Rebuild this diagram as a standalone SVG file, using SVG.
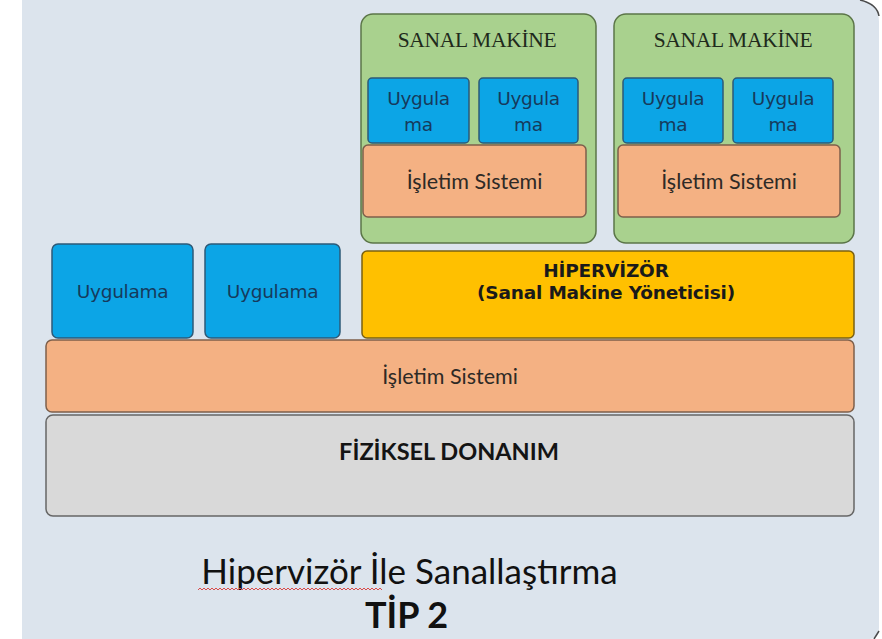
<svg xmlns="http://www.w3.org/2000/svg" width="882" height="639" viewBox="0 0 882 639">
  <style>
    .panel { fill: #dce4ed; }
    .edge { fill: none; stroke: #4a4a4a; stroke-width: 1.5; }
    .vm { fill: #a9d18e; stroke: #5b7548; stroke-width: 1.5; }
    .app { fill: #0ca5e6; stroke: #2d5a78; stroke-width: 1.5; }
    .os { fill: #f4b183; stroke: #7d5f4b; stroke-width: 1.5; }
    .hyp { fill: #ffc000; stroke: #7a6010; stroke-width: 1.5; }
    .hw { fill: #d9d9d9; stroke: #666666; stroke-width: 1.5; }
    .vmt { font-family: "Liberation Serif", "Times New Roman", serif; font-size: 21.5px; fill: #1f2a1c; text-anchor: middle; letter-spacing: -0.3px; }
    .appt { font-family: "DejaVu Sans", Verdana, sans-serif; font-size: 18.5px; fill: #163a5c; text-anchor: middle; letter-spacing: -0.3px; }
    .ost { font-family: Lato, "Open Sans", sans-serif; font-size: 21.5px; fill: #2e2a26; text-anchor: middle; }
    .hypt { font-family: "DejaVu Sans", Tahoma, sans-serif; font-weight: bold; font-size: 18.5px; fill: #1a1a1a; text-anchor: middle; letter-spacing: -0.2px; }
    .hwt { font-family: Lato, "Open Sans", sans-serif; font-weight: bold; font-size: 23.5px; fill: #141414; text-anchor: middle; }
    .cap { font-family: Lato, "Open Sans", sans-serif; font-size: 35px; fill: #111111; text-anchor: middle; }
    .capb { font-family: Lato, "Open Sans", sans-serif; font-weight: bold; font-size: 36px; fill: #111111; text-anchor: middle; }
  </style>

  <!-- backdrop panel -->
  <path class="panel" d="M22,0 H858 Q879,0 879,22 V628 Q879,639 870,639 H22 Z"/>
  <path class="edge" d="M860,0 Q877,4 879,16"/>
  <path class="edge" d="M874,639 L879,631"/>

  <!-- virtual machine 1 -->
  <g id="vm1">
    <rect class="vm" x="361" y="14" width="235" height="229" rx="12"/>
    <text class="vmt" x="477" y="47">SANAL MAKİNE</text>
  </g>
  <g id="vm1-app1">
    <rect class="app" x="368" y="78" width="101" height="65" rx="4"/>
    <text class="appt" x="418.5" y="105">Uygula</text>
    <text class="appt" x="418.5" y="131">ma</text>
  </g>
  <g id="vm1-app2">
    <rect class="app" x="479" y="78" width="99" height="65" rx="4"/>
    <text class="appt" x="528.5" y="105">Uygula</text>
    <text class="appt" x="528.5" y="131">ma</text>
  </g>
  <g id="vm1-os">
    <rect class="os" x="363" y="145" width="223" height="72" rx="5"/>
    <text class="ost" x="474.5" y="189">İşletim Sistemi</text>
  </g>

  <!-- virtual machine 2 -->
  <g id="vm2">
    <rect class="vm" x="614" y="14" width="240" height="229" rx="12"/>
    <text class="vmt" x="733" y="47">SANAL MAKİNE</text>
  </g>
  <g id="vm2-app1">
    <rect class="app" x="623" y="78" width="100" height="65" rx="4"/>
    <text class="appt" x="673" y="105">Uygula</text>
    <text class="appt" x="673" y="131">ma</text>
  </g>
  <g id="vm2-app2">
    <rect class="app" x="733" y="78" width="100" height="65" rx="4"/>
    <text class="appt" x="783" y="105">Uygula</text>
    <text class="appt" x="783" y="131">ma</text>
  </g>
  <g id="vm2-os">
    <rect class="os" x="618" y="145" width="222" height="72" rx="5"/>
    <text class="ost" x="729" y="189">İşletim Sistemi</text>
  </g>

  <!-- host applications -->
  <g id="host-app1">
    <rect class="app" x="52" y="244" width="141" height="94" rx="6"/>
    <text class="appt" x="122.5" y="298">Uygulama</text>
  </g>
  <g id="host-app2">
    <rect class="app" x="205" y="244" width="135" height="94" rx="6"/>
    <text class="appt" x="272.5" y="298">Uygulama</text>
  </g>

  <!-- hypervisor -->
  <g id="hypervisor">
    <rect class="hyp" x="362" y="251" width="492" height="87" rx="5"/>
    <text class="hypt" x="606" y="277">HİPERVİZÖR</text>
    <text class="hypt" x="606" y="299">(Sanal Makine Yöneticisi)</text>
  </g>

  <!-- host operating system -->
  <g id="host-os">
    <rect class="os" x="46" y="340" width="808" height="72" rx="6"/>
    <text class="ost" x="450" y="384">İşletim Sistemi</text>
  </g>

  <!-- physical hardware -->
  <g id="hardware">
    <rect class="hw" x="46" y="415" width="808" height="101" rx="7"/>
    <text class="hwt" x="449" y="460">FİZİKSEL DONANIM</text>
  </g>

  <!-- caption -->
  <g id="caption">
    <text class="cap" x="409.5" y="584">Hipervizör İle Sanallaştırma</text>
    <path d="M198,590 l2,-2 l2,2 l2,-2 l2,2 l2,-2 l2,2 l2,-2 l2,2 l2,-2 l2,2 l2,-2 l2,2 l2,-2 l2,2 l2,-2 l2,2 l2,-2 l2,2 l2,-2 l2,2 l2,-2 l2,2 l2,-2 l2,2 l2,-2 l2,2 l2,-2 l2,2 l2,-2 l2,2 l2,-2 l2,2 l2,-2 l2,2 l2,-2 l2,2 l2,-2 l2,2 l2,-2 l2,2 l2,-2 l2,2 l2,-2 l2,2 l2,-2 l2,2 l2,-2 l2,2 l2,-2 l2,2 l2,-2 l2,2 l2,-2 l2,2 l2,-2 l2,2 l2,-2 l2,2 l2,-2 l2,2 l2,-2 l2,2 l2,-2 l2,2 l2,-2 l2,2 l2,-2 l2,2 l2,-2 l2,2 l2,-2 l2,2 l2,-2 l2,2 l2,-2 l2,2 l2,-2 l2,2 l2,-2 l2,2 l2,-2 l2,2 l2,-2 l2,2 l2,-2 l2,2 l2,-2 l2,2 l2,-2 l2,2 l2,-2 l2,2" fill="none" stroke="#d94a4a" stroke-width="1"/>
    <text class="capb" x="406.5" y="628">TİP 2</text>
  </g>
</svg>
